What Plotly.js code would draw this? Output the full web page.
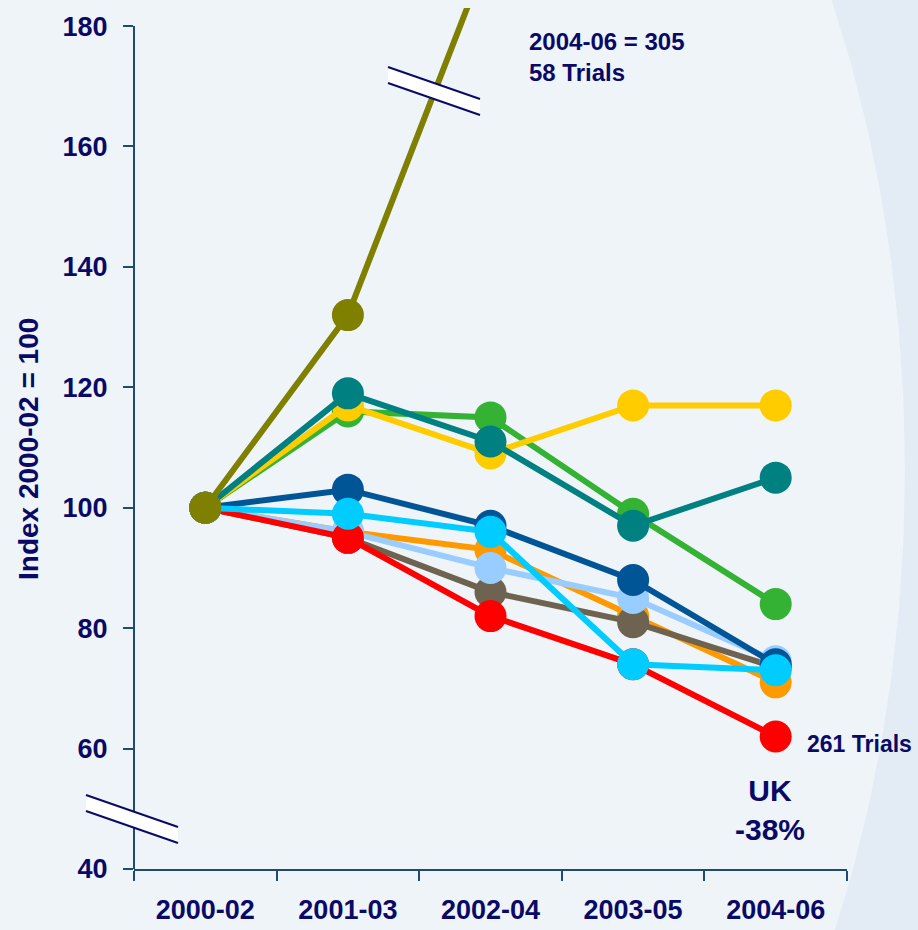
<!DOCTYPE html>
<html>
<head>
<meta charset="utf-8">
<script src="https://cdn.plot.ly/plotly-3.0.1.min.js"></script>
<style>html,body{margin:0;padding:0;background:#E3ECF4;}#chart{width:918px;height:930px;}</style>
</head>
<body>
<div id="chart"></div>
<script>
// ---- data ----
const categories = ['2000-02', '2001-03', '2002-04', '2003-05', '2004-06'];
const greenSeries     = [100, 116, 115, 99, 84];
const yellowSeries    = [100, 117, 109, 117, 117];
const tealSeries      = [100, 119, 111, 97, 105];
const orangeSeries    = [100, 96, 93, 82, 71];
const lightBlueSeries = [100, 96, 90, 85, 74.5];
const brownSeries     = [100, 95, 86, 81, 73.5];
const darkBlueSeries  = [100, 103, 97, 88, 74];
const ukSeries        = [100, 95, 82, 74, 62];
const cyanSeries      = [100, 99, 96, 74, 73];
const oliveSeries     = [100, 132, 193, null, 305];
const yTicks = [40, 60, 80, 100, 120, 140, 160, 180];

// ---- style ----
const NAVY = '#0a0a66';
const AXIS = '#1f4a72';
const FONT = 'Liberation Sans, Arial, sans-serif';
const L = 134, R = 847, T = 8, B = 869; // plot area in pixels
const px = v => (v - L) / (R - L);
const py = v => (B - v) / (B - T);

function mk(name, y, color) {
  return {
    type: 'scatter', mode: 'lines+markers', name: name,
    x: categories, y: y,
    line: {color: color, width: 6},
    marker: {color: color, size: 32, line: {width: 0}},
    cliponaxis: true, hoverinfo: 'x+y+name'
  };
}

const traces = [
  mk('Green', greenSeries, '#33b233'),
  mk('Yellow', yellowSeries, '#ffcc00'),
  mk('Teal', tealSeries, '#008080'),
  mk('Orange', orangeSeries, '#ff9900'),
  mk('Brown', brownSeries, '#6e6350'),
  mk('Light blue', lightBlueSeries, '#99ccff'),
  mk('Dark blue', darkBlueSeries, '#005596'),
  mk('UK', ukSeries, '#ff0000'),
  mk('Cyan', cyanSeries, '#00ccff'),
  mk('58 Trials', oliveSeries, '#7f7f00')
];

function breakMark(x1, y1a, y1b, x2, y2a, y2b) {
  // white band with two navy edges, pixel coords converted to paper
  return [
    {type: 'path', xref: 'paper', yref: 'paper', layer: 'above',
     path: `M ${px(x1)} ${py(y1a)} L ${px(x2)} ${py(y2a)} L ${px(x2)} ${py(y2b)} L ${px(x1)} ${py(y1b)} Z`,
     fillcolor: '#ffffff', line: {width: 0}},
    {type: 'line', xref: 'paper', yref: 'paper', layer: 'above',
     x0: px(x1), y0: py(y1a), x1: px(x2), y1: py(y2a), line: {color: NAVY, width: 2}},
    {type: 'line', xref: 'paper', yref: 'paper', layer: 'above',
     x0: px(x1), y0: py(y1b), x1: px(x2), y1: py(y2b), line: {color: NAVY, width: 2}}
  ];
}

// background ellipse (lighter area)
const ellipse = (() => {
  const cx = 280, cy = 470, rx = 625, ry = 1000, n = 90;
  let p = '';
  for (let i = 0; i <= n; i++) {
    const a = 2 * Math.PI * i / n;
    const X = px(cx + rx * Math.cos(a)), Y = py(cy + ry * Math.sin(a));
    p += (i === 0 ? 'M ' : ' L ') + X.toFixed(4) + ' ' + Y.toFixed(4);
  }
  return {type: 'path', xref: 'paper', yref: 'paper', layer: 'below',
          path: p + ' Z', fillcolor: '#eff4f9', line: {width: 0}};
})();

const shapes = [
  ellipse,
  {type: 'line', xref: 'paper', yref: 'y', x0: 0, x1: 0, y0: 40, y1: 180,
   line: {color: AXIS, width: 2}, layer: 'above'},
  ...breakMark(86, 795, 811, 178, 827, 843),
  ...breakMark(388, 67, 83, 480, 99, 115)
];

const layout = {
  width: 918, height: 930,
  margin: {l: L, r: 918 - R, t: T, b: 930 - B},
  paper_bgcolor: '#e3ecf4',
  plot_bgcolor: 'rgba(0,0,0,0)',
  showlegend: false,
  font: {family: FONT, color: NAVY},
  xaxis: {
    type: 'category', categoryorder: 'array', categoryarray: categories,
    range: [-0.5, 4.5], tickson: 'boundaries',
    showline: true, linecolor: AXIS, linewidth: 2,
    ticks: 'outside', ticklen: 10, tickwidth: 2, tickcolor: AXIS,
    showgrid: false, zeroline: false,
    tickfont: {family: FONT, size: 27, color: NAVY, weight: 'bold'},
    ticklabelstandoff: 16, fixedrange: true
  },
  yaxis: {
    range: [40, 183], tickvals: yTicks, ticktext: yTicks.map(String),
    showline: false, ticks: 'outside', ticklen: 10, tickwidth: 2, tickcolor: AXIS,
    showgrid: false, zeroline: false,
    tickfont: {family: FONT, size: 27, color: NAVY, weight: 'bold'},
    ticklabelstandoff: 10,
    fixedrange: true
  },
  shapes: shapes,
  annotations: [
    {xref: 'paper', yref: 'paper', x: px(28), y: py(449), xanchor: 'center', yanchor: 'middle',
     textangle: -90, showarrow: false, text: 'Index 2000-02 = 100',
     font: {family: FONT, size: 28, color: NAVY, weight: 'bold'}},
    {xref: 'paper', yref: 'paper', x: px(527), y: py(57), xanchor: 'left', yanchor: 'middle',
     align: 'left', showarrow: false, text: '2004-06 = 305<br>58 Trials',
     font: {family: FONT, size: 24, color: NAVY, weight: 'bold'}},
    {xref: 'paper', yref: 'paper', x: px(805), y: py(744), xanchor: 'left', yanchor: 'middle',
     showarrow: false, text: '261 Trials',
     font: {family: FONT, size: 23, color: NAVY, weight: 'bold'}},
    {xref: 'paper', yref: 'paper', x: px(770), y: py(810), xanchor: 'center', yanchor: 'middle',
     align: 'center', showarrow: false, text: 'UK<br>-38%',
     font: {family: FONT, size: 30, color: NAVY, weight: 'bold'}}
  ]
};

Plotly.newPlot('chart', traces, layout, {displayModeBar: false, staticPlot: true});
</script>
</body>
</html>
